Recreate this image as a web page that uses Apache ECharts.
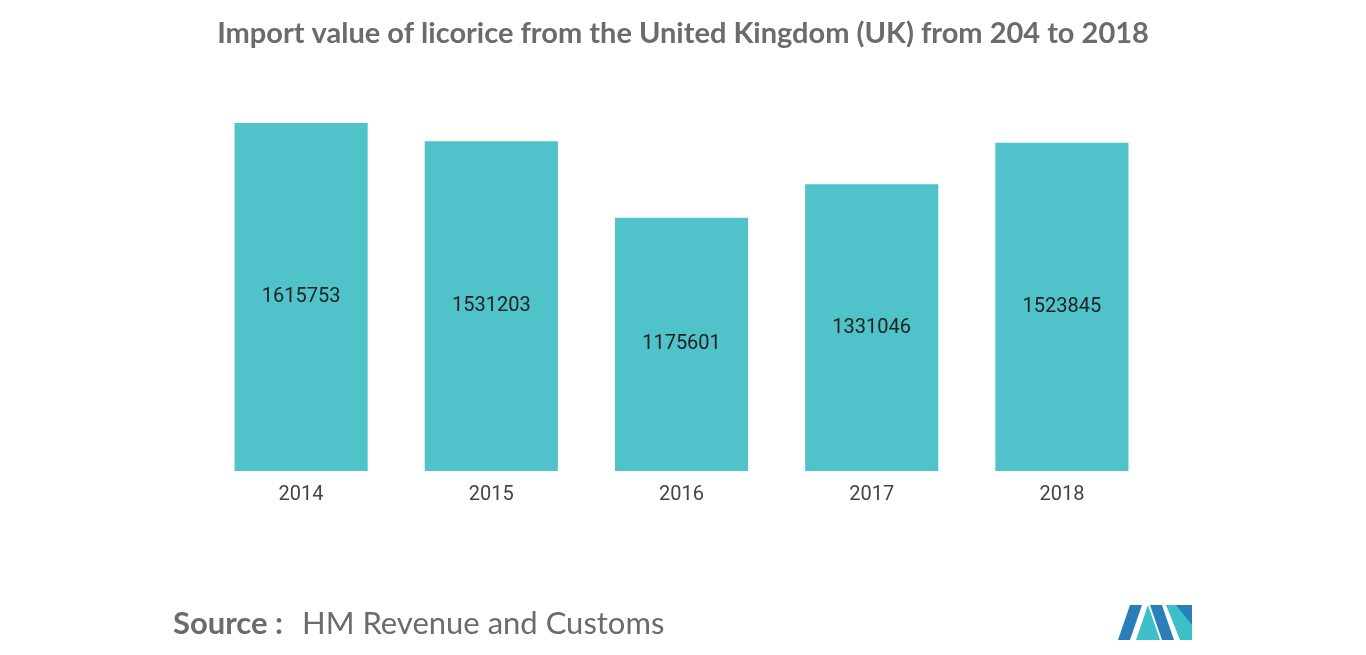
<!DOCTYPE html>
<html><head><meta charset="utf-8">
<script src="https://cdn.jsdelivr.net/npm/echarts@6/dist/echarts.min.js"></script>
<style>html,body{margin:0;padding:0;background:#fff}#c{width:1366px;height:655px}</style>
</head><body><div id="c"></div>
<script>
const categories = ['2014','2015','2016','2017','2018'];
const values = [1615753,1531203,1175601,1331046,1523845];
const chart = echarts.init(document.getElementById('c'));
chart.setOption({
  animation:false,
  title:{text:'Import value of licorice from the United Kingdom (UK) from 204 to 2018',left:'center',top:14,
    textStyle:{fontFamily:'Lato',fontWeight:'bold',fontSize:29,color:'#6b6b6b'}},
  grid:{left:206,right:209,top:123,bottom:184},
  xAxis:{type:'category',data:categories,axisLine:{show:false},axisTick:{show:false},
    axisLabel:{margin:14,fontFamily:'Roboto',fontSize:20,color:'#444'}},
  yAxis:{type:'value',min:0,max:1615753,show:false,splitLine:{show:false}},
  series:[{type:'bar',data:values,barWidth:'70%',itemStyle:{color:'#4fc3c9'},
    label:{show:true,position:'inside',fontFamily:'Roboto',fontSize:20,color:'#222'}}],
  graphic:[
    {type:'text',left:173,top:608,style:{text:'Source :',font:'bold 31px Lato',fill:'#6b6b6b'}},
    {type:'text',left:302,top:608,style:{text:'HM Revenue and Customs',font:'31px Lato',fill:'#6b6b6b'}},
    {type:'polygon',shape:{points:[[1118,640],[1130,605],[1142,605],[1130,640]]},style:{fill:'#2b7fb8'}},
    {type:'polygon',shape:{points:[[1136,640],[1148,605],[1160,640]]},style:{fill:'#3dbfc7'}},
    {type:'polygon',shape:{points:[[1150,605],[1162,605],[1174,640],[1162,640]]},style:{fill:'#2b7fb8'}},
    {type:'polygon',shape:{points:[[1166,605],[1192,605],[1192,640],[1180,640]]},style:{fill:'#3dbfc7'}},
    {type:'polygon',shape:{points:[[1176,605],[1192,605],[1192,625]]},style:{fill:'#2b7fb8'}}
  ]
});
</script></body></html>
